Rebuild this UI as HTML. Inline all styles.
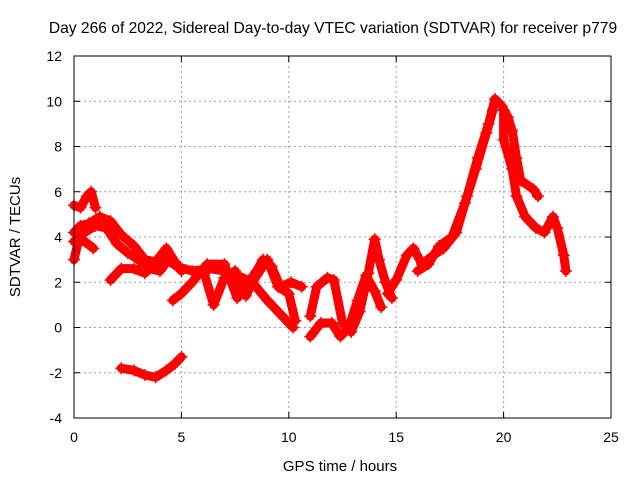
<!DOCTYPE html>
<html><head><meta charset="utf-8"><style>
body{margin:0;background:#fff;font-family:"Liberation Sans",sans-serif}
svg text{font-family:"Liberation Sans",sans-serif;font-size:14px;fill:#000}
</style></head><body>
<svg id="chart" width="640" height="480">
<text x="333" y="33" text-anchor="middle" style="font-size:15.6px">Day 266 of 2022, Sidereal Day-to-day VTEC variation (SDTVAR) for receiver p779</text>
<text x="340" y="471" text-anchor="middle" style="font-size:15px">GPS time / hours</text>
<text transform="translate(20,237) rotate(-90)" text-anchor="middle" style="font-size:15px">SDTVAR / TECUs</text>
<g id="grid"></g><g id="ticks"></g><g id="series"></g>
<rect x="74" y="56" width="537" height="362" fill="none" stroke="#000"/>
</svg>
<script>
const xTicks=[0,5,10,15,20,25];
const yTicks=[-4,-2,0,2,4,6,8,10,12];
const trackA=[[0,4.2],[0.3,4.5],[0.7,4.6],[1.2,4.9],[1.7,4.7],[2.2,4.1],[2.8,3.6],[3.3,3.0],[3.8,2.9],[4.3,3.0],[4.8,2.7],[5.5,2.5],[6.3,2.6],[7,2.5],[7.6,2.3],[8.3,2.0],[9,1.2],[9.6,0.6],[10.2,0.0]];
const trackA2=[[0,3.8],[0.5,4.2],[1,4.5],[1.5,4.4],[2,3.7],[2.5,3.3],[3,3.0],[3.5,2.6],[4,2.5],[4.4,3.0],[4.7,2.8]];
const trackSpike=[[0,5.4],[0.3,5.3],[0.6,5.8],[0.8,6.0],[1.0,5.3]];
const trackLow=[[0,3.0],[0.2,3.8],[0.5,3.8],[0.9,3.5]];
const trackB=[[1.7,2.1],[2.2,2.6],[2.8,2.6],[3.3,2.4],[3.8,2.9],[4.3,3.5],[4.7,2.9],[5,2.5]];
const trackNeg=[[2.2,-1.8],[2.8,-1.9],[3.3,-2.1],[3.8,-2.2],[4.3,-1.9],[4.7,-1.6],[5,-1.3]];
const trackC=[[4.6,1.2],[5,1.5],[5.5,2.0],[6,2.6],[6.5,1.0],[7,2.2],[7.5,2.5],[8,1.4],[8.3,2.0],[9,3.0],[9.5,1.8],[10,1.5],[10.3,0.3]];
const trackD=[[6.2,2.8],[7,2.8],[7.6,1.3],[8.5,2.5],[8.8,3.0],[9.2,2.7],[9.6,1.8],[10.1,2.0],[10.6,1.8]];
const trackE=[[11,0.5],[11.3,1.8],[11.8,2.2],[12.1,2.1],[12.5,0.2],[12.9,-0.2],[13.3,0.7],[13.7,2.4],[14,3.9],[14.2,3.0],[14.5,2.0],[14.8,1.3]];
const trackF=[[11,-0.4],[11.5,0.2],[12,0.2],[12.4,-0.4],[12.8,0.0],[13.2,1.2],[13.6,2.3],[14,1.6],[14.3,0.9]];
const trackG=[[14.6,1.5],[15,2.1],[15.5,3.2],[15.8,3.5],[16.2,2.8],[16.6,3.1],[17.2,3.5],[17.8,4.2],[18.3,5.8],[18.8,7.5],[19.3,9.0],[19.6,10.1],[19.9,9.8],[20.2,9.3],[20.4,8.7],[20.6,7.5],[20.8,6.5],[21.4,6.1],[21.6,5.8]];
const trackG2=[[16,2.5],[16.5,2.8],[17,3.6],[17.6,4.0],[18.2,5.5],[18.7,7.0],[19.2,8.6],[19.5,9.6]];
const trackH=[[20,9.6],[20,8.3],[20.4,7.0],[20.6,5.8],[21,4.9],[21.5,4.4],[21.9,4.2],[22.3,4.9],[22.5,4.4],[22.8,3.2],[22.9,2.5]];
const tracks=[trackA,trackA2,trackSpike,trackLow,trackB,trackNeg,trackC,trackD,trackE,trackF,trackG,trackG2,trackH];
const X0=74,X1=611,Y0=418,Y1=56;
const sx=v=>X0+(v-0)/(25-0)*(X1-X0);
const sy=v=>Y0-(v+4)/(12+4)*(Y0-Y1);
const NS='http://www.w3.org/2000/svg';
function mk(tag,attrs,parent){const e=document.createElementNS(NS,tag);for(const k in attrs)e.setAttribute(k,attrs[k]);parent.appendChild(e);return e;}
const grid=document.getElementById('grid'),ticks=document.getElementById('ticks'),series=document.getElementById('series');
xTicks.forEach(t=>{const x=sx(t);
 if(t>0&&t<25){const g=mk('line',{x1:x,x2:x,y1:Y1,y2:Y0,stroke:'#a0a0a0','stroke-dasharray':'2,3'},grid);
 
 }
 mk('line',{x1:x,x2:x,y1:Y0,y2:Y0-6,stroke:'#000'},ticks);mk('line',{x1:x,x2:x,y1:Y1,y2:Y1+6,stroke:'#000'},ticks);
 const tx=mk('text',{x:x,y:Y0+24,'text-anchor':'middle'},ticks);tx.textContent=t;
 
 });
yTicks.forEach(t=>{const y=sy(t);
 if(t>-4&&t<12){const g=mk('line',{x1:X0,x2:X1,y1:y,y2:y,stroke:'#a0a0a0','stroke-dasharray':'2,3'},grid);
 
 }
 mk('line',{x1:X0,x2:X0+6,y1:y,y2:y,stroke:'#000'},ticks);mk('line',{x1:X1,x2:X1-6,y1:y,y2:y,stroke:'#000'},ticks);
 const tx=mk('text',{x:X0-12,y:y+5,'text-anchor':'end'},ticks);tx.textContent=t;
 
 });
tracks.forEach((tr,i)=>{
 const g=mk('g',{},series);
 
 
 mk('polyline',{points:tr.map(p=>sx(p[0])+','+sy(p[1])).join(' '),fill:'none',stroke:'#f00','stroke-width':9,'stroke-linejoin':'round','stroke-linecap':'round'},g);
 tr.forEach(p=>{const x=sx(p[0]),y=sy(p[1]);
  const m=mk('path',{d:`M${x-6},${y}h12M${x},${y-6}v12`,stroke:'#f00','stroke-width':1.5},g);
  
  });
});
</script>
</body></html>
